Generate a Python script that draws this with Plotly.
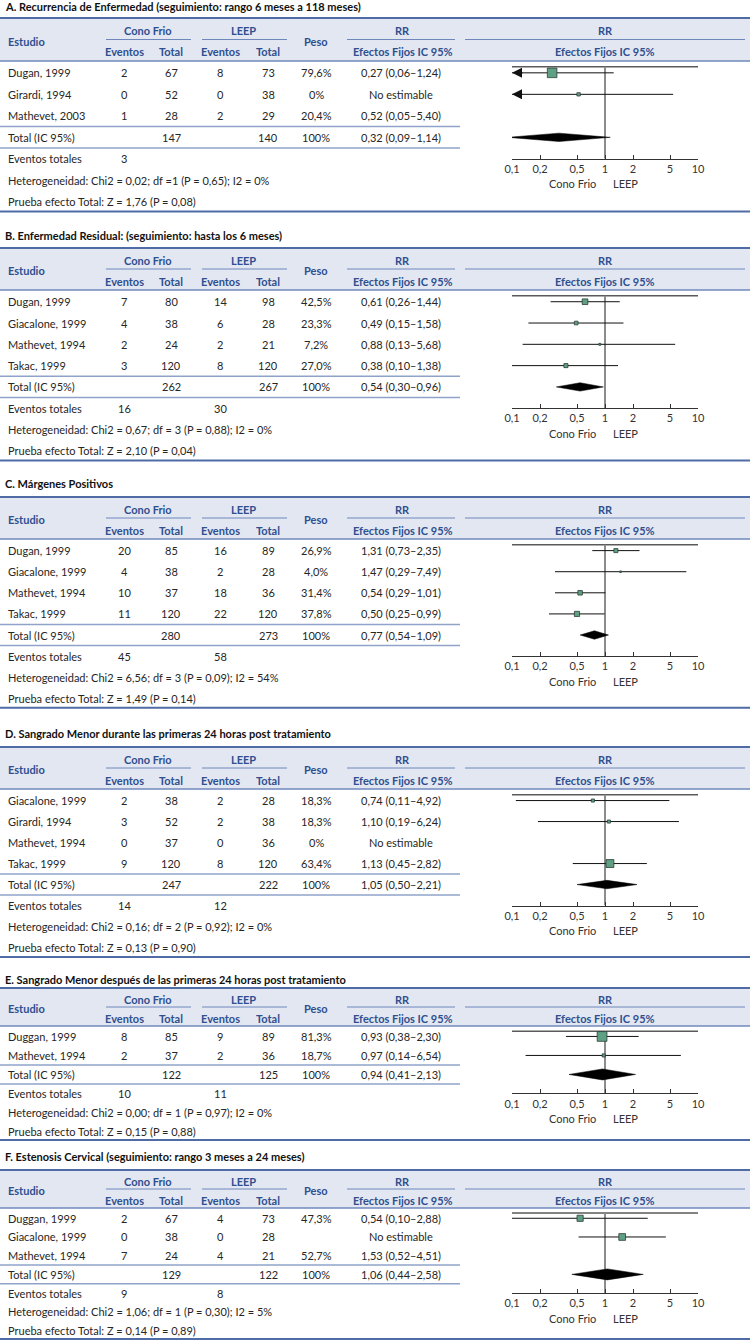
import plotly.graph_objects as go
import math

W, H = 750, 1342

# ======================= DATA =======================
# ---- Panel A ----
A_title = "A. Recurrencia de Enfermedad (seguimiento: rango 6 meses a 118 meses)"
A_studies = ["Dugan, 1999", "Girardi, 1994", "Mathevet, 2003"]
A_cf_events = ["2", "0", "1"]
A_cf_total = ["67", "52", "28"]
A_leep_events = ["8", "0", "2"]
A_leep_total = ["73", "38", "29"]
A_weight = ["79,6%", "0%", "20,4%"]
A_rr_text = ["0,27 (0,06–1,24)", "No estimable", "0,52 (0,05–5,40)"]
A_total = ["147", "140", "100%", "0,32 (0,09–1,14)"]
A_events_total = ["3", ""]
A_hetero = "Heterogeneidad: Chi2 = 0,02; df =1 (P = 0,65); I2 = 0%"
A_test = "Prueba efecto Total: Z = 1,76 (P = 0,08)"
A_rr = [0.27, 0.52]
A_lo = [0.06, 0.05]
A_hi = [1.24, 5.40]
A_w = [79.6, 20.4]
A_row = [1, 2]
A_pooled = [0.32, 0.09, 1.14]

# ---- Panel B ----
B_title = "B. Enfermedad Residual: (seguimiento: hasta los 6 meses)"
B_studies = ["Dugan, 1999", "Giacalone, 1999", "Mathevet, 1994", "Takac, 1999"]
B_cf_events = ["7", "4", "2", "3"]
B_cf_total = ["80", "38", "24", "120"]
B_leep_events = ["14", "6", "2", "8"]
B_leep_total = ["98", "28", "21", "120"]
B_weight = ["42,5%", "23,3%", "7,2%", "27,0%"]
B_rr_text = ["0,61 (0,26–1,44)", "0,49 (0,15–1,58)", "0,88 (0,13–5,68)", "0,38 (0,10–1,38)"]
B_total = ["262", "267", "100%", "0,54 (0,30–0,96)"]
B_events_total = ["16", "30"]
B_hetero = "Heterogeneidad: Chi2 = 0,67; df = 3 (P = 0,88); I2 = 0%"
B_test = "Prueba efecto Total: Z = 2,10 (P = 0,04)"
B_rr = [0.61, 0.49, 0.88, 0.38]
B_lo = [0.26, 0.15, 0.13, 0.10]
B_hi = [1.44, 1.58, 5.68, 1.38]
B_w = [42.5, 23.3, 7.2, 27.0]
B_row = [1, 2, 3, 4]
B_pooled = [0.54, 0.30, 0.96]

# ---- Panel C ----
C_title = "C. Márgenes Positivos"
C_studies = ["Dugan, 1999", "Giacalone, 1999", "Mathevet, 1994", "Takac, 1999"]
C_cf_events = ["20", "4", "10", "11"]
C_cf_total = ["85", "38", "37", "120"]
C_leep_events = ["16", "2", "18", "22"]
C_leep_total = ["89", "28", "36", "120"]
C_weight = ["26,9%", "4,0%", "31,4%", "37,8%"]
C_rr_text = ["1,31 (0,73–2,35)", "1,47 (0,29–7,49)", "0,54 (0,29–1,01)", "0,50 (0,25–0,99)"]
C_total = ["280", "273", "100%", "0,77 (0,54–1,09)"]
C_events_total = ["45", "58"]
C_hetero = "Heterogeneidad: Chi2 = 6,56; df = 3 (P = 0,09); I2 = 54%"
C_test = "Prueba efecto Total: Z = 1,49 (P = 0,14)"
C_rr = [1.31, 1.47, 0.54, 0.50]
C_lo = [0.73, 0.29, 0.29, 0.25]
C_hi = [2.35, 7.49, 1.01, 0.99]
C_w = [26.9, 4.0, 31.4, 37.8]
C_row = [1, 2, 3, 4]
C_pooled = [0.77, 0.54, 1.09]

# ---- Panel D ----
D_title = "D. Sangrado Menor durante las primeras 24 horas post tratamiento"
D_studies = ["Giacalone, 1999", "Girardi, 1994", "Mathevet, 1994", "Takac, 1999"]
D_cf_events = ["2", "3", "0", "9"]
D_cf_total = ["38", "52", "37", "120"]
D_leep_events = ["2", "2", "0", "8"]
D_leep_total = ["28", "38", "36", "120"]
D_weight = ["18,3%", "18,3%", "0%", "63,4%"]
D_rr_text = ["0,74 (0,11–4,92)", "1,10 (0,19–6,24)", "No estimable", "1,13 (0,45–2,82)"]
D_total = ["247", "222", "100%", "1,05 (0,50–2,21)"]
D_events_total = ["14", "12"]
D_hetero = "Heterogeneidad: Chi2 = 0,16; df = 2 (P = 0,92); I2 = 0%"
D_test = "Prueba efecto Total: Z = 0,13 (P = 0,90)"
D_rr = [0.74, 1.10, 1.13]
D_lo = [0.11, 0.19, 0.45]
D_hi = [4.92, 6.24, 2.82]
D_w = [18.3, 18.3, 63.4]
D_row = [1, 2, 4]
D_pooled = [1.05, 0.50, 2.21]

# ---- Panel E ----
E_title = "E. Sangrado Menor después de las primeras 24 horas post tratamiento"
E_studies = ["Duggan, 1999", "Mathevet, 1994"]
E_cf_events = ["8", "2"]
E_cf_total = ["85", "37"]
E_leep_events = ["9", "2"]
E_leep_total = ["89", "36"]
E_weight = ["81,3%", "18,7%"]
E_rr_text = ["0,93 (0,38–2,30)", "0,97 (0,14–6,54)"]
E_total = ["122", "125", "100%", "0,94 (0,41–2,13)"]
E_events_total = ["10", "11"]
E_hetero = "Heterogeneidad: Chi2 = 0,00; df = 1 (P = 0,97); I2 = 0%"
E_test = "Prueba efecto Total: Z = 0,15 (P = 0,88)"
E_rr = [0.93, 0.97]
E_lo = [0.38, 0.14]
E_hi = [2.30, 6.54]
E_w = [81.3, 18.7]
E_row = [1, 2]
E_pooled = [0.94, 0.41, 2.13]

# ---- Panel F ----
F_title = "F. Estenosis Cervical (seguimiento: rango 3 meses a 24 meses)"
F_studies = ["Duggan, 1999", "Giacalone, 1999", "Mathevet, 1994"]
F_cf_events = ["2", "0", "7"]
F_cf_total = ["67", "38", "24"]
F_leep_events = ["4", "0", "4"]
F_leep_total = ["73", "28", "21"]
F_weight = ["47,3%", "", "52,7%"]
F_rr_text = ["0,54 (0,10–2,88)", "No estimable", "1,53 (0,52–4,51)"]
F_total = ["129", "122", "100%", "1,06 (0,44–2,58)"]
F_events_total = ["9", "8"]
F_hetero = "Heterogeneidad: Chi2 = 1,06; df = 1 (P = 0,30); I2 = 5%"
F_test = "Prueba efecto Total: Z = 0,14 (P = 0,89)"
F_rr = [0.54, 1.53]
F_lo = [0.10, 0.52]
F_hi = [2.88, 4.51]
F_w = [47.3, 52.7]
F_row = [1, 2]
F_pooled = [1.06, 0.44, 2.58]

tick_vals = [0.1, 0.2, 0.5, 1, 2, 5, 10]
tick_text = ["0,1", "0,2", "0,5", "1", "2", "5", "10"]
left_label = "Cono Frio"
right_label = "LEEP"

# ======================= BUILD =======================
def panel(title, studies, cfe, cft, lee, let, wt, rrt, tot, evt, het, tst, rr, lo, hi, w, row, pooled):
    return dict(title=title, studies=studies, cfe=cfe, cft=cft, lee=lee, let=let, wt=wt,
                rrt=rrt, tot=tot, evt=evt, het=het, tst=tst, rr=rr, lo=lo, hi=hi, w=w,
                row=row, pooled=pooled)

panels = [
    panel(A_title, A_studies, A_cf_events, A_cf_total, A_leep_events, A_leep_total, A_weight, A_rr_text,
          A_total, A_events_total, A_hetero, A_test, A_rr, A_lo, A_hi, A_w, A_row, A_pooled),
    panel(B_title, B_studies, B_cf_events, B_cf_total, B_leep_events, B_leep_total, B_weight, B_rr_text,
          B_total, B_events_total, B_hetero, B_test, B_rr, B_lo, B_hi, B_w, B_row, B_pooled),
    panel(C_title, C_studies, C_cf_events, C_cf_total, C_leep_events, C_leep_total, C_weight, C_rr_text,
          C_total, C_events_total, C_hetero, C_test, C_rr, C_lo, C_hi, C_w, C_row, C_pooled),
    panel(D_title, D_studies, D_cf_events, D_cf_total, D_leep_events, D_leep_total, D_weight, D_rr_text,
          D_total, D_events_total, D_hetero, D_test, D_rr, D_lo, D_hi, D_w, D_row, D_pooled),
    panel(E_title, E_studies, E_cf_events, E_cf_total, E_leep_events, E_leep_total, E_weight, E_rr_text,
          E_total, E_events_total, E_hetero, E_test, E_rr, E_lo, E_hi, E_w, E_row, E_pooled),
    panel(F_title, F_studies, F_cf_events, F_cf_total, F_leep_events, F_leep_total, F_weight, F_rr_text,
          F_total, F_events_total, F_hetero, F_test, F_rr, F_lo, F_hi, F_w, F_row, F_pooled),
]

# layout geometry (pixels): title y, header top, header height, row height, diamond half-height
GEOM = [
    (6, 18, 43, 21.5, 4.2),
    (236, 248, 42, 21.3, 4.2),
    (483, 497, 42, 21.1, 4.2),
    (733, 747, 42, 21.0, 4.2),
    (979, 988, 38, 19.0, 5.5),
    (1156, 1170, 38, 18.7, 5.5),
]

FONT = "Lato"
FS = 11
BODY = "#262626"
HDR_TXT = "#2f4f8f"
HDR_BG = "#e3e7f2"
BORDER = "#4f6ca6"
HDR_LINE = "#6f88bc"
SEP = "#8fa3c9"
GREEN = "#5fa084"

# column centres (px)
X_STUDY = 6
X_CFE, X_CFT, X_LEE, X_LET, X_PESO, X_RR = 124, 171, 220, 268, 316, 401
X_PLOT0, X_PLOT1 = 512, 698

annotations, shapes, traces = [], [], []
layout_axes = {}


def px(x):
    return x / W


def py(y):
    return 1 - y / H


def text(x, y, s, anchor="center", bold=False, color=BODY, size=FS):
    annotations.append(dict(
        x=px(x), y=py(y), xref="paper", yref="paper", text=s, showarrow=False,
        xanchor=anchor, yanchor="middle",
        font=dict(family=FONT, size=size, color=color, weight="bold" if bold else "normal")))


def hline(x0, x1, y, color, width):
    shapes.append(dict(type="line", xref="paper", yref="paper", x0=px(x0), x1=px(x1),
                       y0=py(y), y1=py(y), line=dict(color=color, width=width)))


for i, (p, g) in enumerate(zip(panels, GEOM), start=1):
    title_y, top, hh, R, dia = g
    n = len(p["studies"])
    hb = top + hh
    row1 = hb + 0.55 * R

    def ry(k, row1=row1, R=R):
        return row1 + (k - 1) * R

    bottom = ry(n + 4) + 0.45 * R

    # header band
    shapes.append(dict(type="rect", xref="paper", yref="paper", x0=0, x1=1, y0=py(hb), y1=py(top),
                       fillcolor=HDR_BG, line=dict(width=0), layer="below"))
    hline(0, W, top, BORDER, 2)
    hline(0, W, hb, HDR_LINE, 1.5)
    text(3, title_y, p["title"], anchor="left", bold=True, color="#111111")

    r1 = top + 0.29 * hh
    ul = top + 0.50 * hh
    r2 = top + 0.79 * hh
    mid = top + 0.54 * hh
    text(X_STUDY, mid, "Estudio", anchor="left", bold=True, color=HDR_TXT)
    text(148, r1, "Cono Frio", bold=True, color=HDR_TXT)
    hline(106, 191, ul, HDR_LINE, 1)
    text(X_CFE, r2, "Eventos", bold=True, color=HDR_TXT)
    text(X_CFT, r2, "Total", bold=True, color=HDR_TXT)
    text(244, r1, "LEEP", bold=True, color=HDR_TXT)
    hline(202, 287, ul, HDR_LINE, 1)
    text(X_LEE, r2, "Eventos", bold=True, color=HDR_TXT)
    text(X_LET, r2, "Total", bold=True, color=HDR_TXT)
    text(X_PESO, mid, "Peso", bold=True, color=HDR_TXT)
    text(402, r1, "RR", bold=True, color=HDR_TXT)
    hline(347, 455, ul, HDR_LINE, 1)
    text(403, r2, "Efectos Fijos IC 95%", bold=True, color=HDR_TXT)
    text(605, r1, "RR", bold=True, color=HDR_TXT)
    hline(465, 745, ul, HDR_LINE, 1)
    text(605, r2, "Efectos Fijos IC 95%", bold=True, color=HDR_TXT)

    for k in range(n):
        y = ry(k + 1)
        text(X_STUDY, y, p["studies"][k], anchor="left")
        text(X_CFE, y, p["cfe"][k])
        text(X_CFT, y, p["cft"][k])
        text(X_LEE, y, p["lee"][k])
        text(X_LET, y, p["let"][k])
        text(X_PESO, y, p["wt"][k])
        text(X_RR, y, p["rrt"][k])

    hline(0, 460, ry(n) + 0.5 * R, SEP, 1.5)
    yt = ry(n + 1)
    text(X_STUDY, yt, "Total (IC 95%)", anchor="left")
    text(X_CFT, yt, p["tot"][0])
    text(X_LET, yt, p["tot"][1])
    text(X_PESO, yt, p["tot"][2])
    text(X_RR, yt, p["tot"][3])
    hline(0, 460, yt + 0.5 * R, SEP, 1.5)

    ye = ry(n + 2)
    text(X_STUDY, ye, "Eventos totales", anchor="left")
    text(X_CFE, ye, p["evt"][0])
    text(X_LEE, ye, p["evt"][1])
    text(X_STUDY, ry(n + 3), p["het"], anchor="left")
    text(X_STUDY, ry(n + 4), p["tst"], anchor="left")
    hline(0, W, bottom, BORDER, 2)

    # ---------- forest plot ----------
    xa = "x" if i == 1 else f"x{i}"
    ya = "y" if i == 1 else f"y{i}"
    axis_row = n + 2
    top_row = 0.72
    layout_axes["xaxis" if i == 1 else f"xaxis{i}"] = dict(
        type="log", range=[-1, 1], domain=[px(X_PLOT0), px(X_PLOT1)], anchor=ya,
        tickvals=tick_vals, ticktext=tick_text, ticks="inside", ticklen=4, tickcolor="#333",
        showline=True, linecolor="#333", linewidth=1, showgrid=False, zeroline=False,
        automargin=False, tickfont=dict(family=FONT, size=FS, color="#333"), fixedrange=True)
    layout_axes["yaxis" if i == 1 else f"yaxis{i}"] = dict(
        range=[axis_row, 1 - 0.55], domain=[py(ry(axis_row)), py(hb)], anchor=xa,
        visible=False, showgrid=False, zeroline=False, automargin=False, fixedrange=True)

    # top frame line and line of no effect
    traces.append(go.Scatter(x=[tick_vals[0], tick_vals[-1]], y=[top_row, top_row], mode="lines",
                             line=dict(color="#5a5a5a", width=1.5), xaxis=xa, yaxis=ya,
                             showlegend=False, hoverinfo="skip"))
    traces.append(go.Scatter(x=[1, 1], y=[top_row, axis_row], mode="lines",
                             line=dict(color="#8c8c8c", width=2), xaxis=xa, yaxis=ya,
                             showlegend=False, hoverinfo="skip"))

    for k in range(len(p["rr"])):
        r = p["row"][k]
        traces.append(go.Scatter(x=[p["lo"][k], p["hi"][k]], y=[r, r], mode="lines",
                                 line=dict(color="#111", width=1), xaxis=xa, yaxis=ya,
                                 showlegend=False, hoverinfo="skip"))
        traces.append(go.Scatter(x=[p["rr"][k]], y=[r], mode="markers",
                                 marker=dict(symbol="square", size=1.2 + 0.105 * p["w"][k], color=GREEN,
                                             line=dict(color="#2b3d33", width=0.8)),
                                 xaxis=xa, yaxis=ya, showlegend=False, hoverinfo="skip"))
        if p["lo"][k] < tick_vals[0]:
            annotations.append(dict(x=math.log10(tick_vals[0]), y=r, xref=xa, yref=ya, text="",
                                    showarrow=True, ax=12, ay=0, axref="pixel", ayref="pixel",
                                    arrowhead=2, arrowsize=2, arrowwidth=1, arrowcolor="#111",
                                    standoff=0))

    est, plo, phi = p["pooled"]
    d = dia / R
    yt_row = n + 1
    traces.append(go.Scatter(x=[plo, est, phi, est, plo], y=[yt_row, yt_row - d, yt_row, yt_row + d, yt_row],
                             mode="lines", fill="toself", fillcolor="#000", line=dict(color="#000", width=0.5),
                             xaxis=xa, yaxis=ya, showlegend=False, hoverinfo="skip"))

    annotations.append(dict(x=0, y=axis_row, xref=xa, yref=ya, text=left_label, showarrow=False,
                            xanchor="right", yanchor="middle", xshift=-7, yshift=-25,
                            font=dict(family=FONT, size=FS, color="#333")))
    annotations.append(dict(x=0, y=axis_row, xref=xa, yref=ya, text=right_label, showarrow=False,
                            xanchor="left", yanchor="middle", xshift=6, yshift=-25,
                            font=dict(family=FONT, size=FS, color="#333")))

fig = go.Figure(data=traces)
fig.update_layout(
    width=W, height=H, autosize=False,
    margin=dict(l=0, r=0, t=0, b=0, pad=0, autoexpand=False),
    paper_bgcolor="white", plot_bgcolor="rgba(0,0,0,0)",
    showlegend=False, hovermode=False,
    annotations=annotations, shapes=shapes,
    **layout_axes,
)
fig.write_html("out.html", config={"displayModeBar": False},
               post_script="document.body.style.margin='0';")
